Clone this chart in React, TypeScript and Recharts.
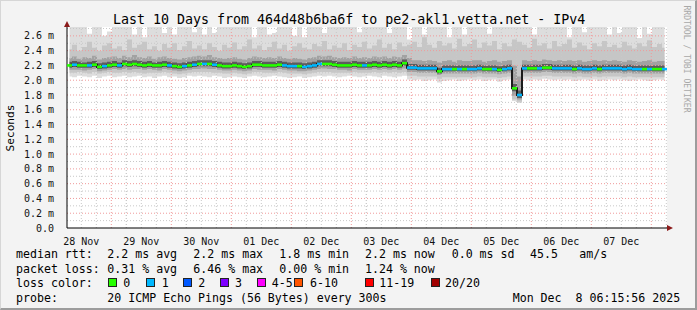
import React from 'react';
import { ComposedChart, Area, Line, XAxis, YAxis, CartesianGrid, ReferenceLine } from 'recharts';

// ---- data (2-hour bins, hours from start of window) ----
const binHours = 2;
const medianMs = [
  2.20, 2.21, 2.20, 2.20, 2.20, 2.21, 2.18, 2.19, 2.20, 2.21,
  2.20, 2.22, 2.21, 2.22, 2.21, 2.20, 2.21, 2.20, 2.20, 2.21,
  2.20, 2.19, 2.18, 2.19, 2.20, 2.21, 2.22, 2.22, 2.22, 2.21,
  2.20, 2.19, 2.19, 2.20, 2.19, 2.18, 2.19, 2.21, 2.21, 2.20,
  2.20, 2.20, 2.21, 2.20, 2.19, 2.19, 2.19, 2.18, 2.19, 2.20,
  2.22, 2.22, 2.22, 2.21, 2.20, 2.20, 2.20, 2.21, 2.20, 2.20,
  2.20, 2.21, 2.20, 2.21, 2.20, 2.21, 2.20, 2.23, 2.17, 2.17,
  2.16, 2.16, 2.16, 2.16, 2.12, 2.15, 2.15, 2.15, 2.15, 2.15,
  2.15, 2.15, 2.16, 2.15, 2.15, 2.15, 2.14, 2.15, 2.16, 1.89,
  1.80, 2.16, 2.16, 2.16, 2.16, 2.17, 2.17, 2.16, 2.16, 2.16,
  2.16, 2.15, 2.16, 2.15, 2.15, 2.16, 2.15, 2.16, 2.16, 2.16,
  2.16, 2.15, 2.16, 2.15, 2.15, 2.15, 2.15, 2.15, 2.15, 2.15,
];
const lossCount = [
  0, 1, 0, 0, 1, 0, 0, 1, 0, 0,
  1, 0, 0, 0, 0, 0, 0, 0, 0, 0,
  1, 0, 0, 1, 0, 1, 0, 1, 0, 1,
  0, 0, 0, 0, 0, 0, 0, 0, 0, 0,
  0, 0, 0, 1, 1, 1, 0, 1, 1, 1,
  1, 0, 0, 0, 0, 0, 0, 0, 0, 1,
  0, 0, 0, 0, 0, 0, 0, 0, 1, 1,
  1, 1, 1, 1, 0, 1, 1, 0, 1, 0,
  1, 1, 1, 0, 0, 1, 0, 1, 1, 0,
  1, 1, 0, 0, 1, 0, 0, 1, 1, 1,
  1, 0, 1, 1, 1, 1, 0, 1, 1, 1,
  1, 1, 1, 1, 1, 0, 1, 0, 0, 1,
];
const smokeMax = [
  2.72, 2.72, 2.72, 2.72, 2.63, 2.72, 2.72, 2.60, 2.66, 2.72,
  2.72, 2.72, 2.72, 2.62, 2.72, 2.58, 2.72, 2.72, 2.72, 2.64,
  2.72, 2.62, 2.72, 2.72, 2.72, 2.65, 2.72, 2.62, 2.72, 2.64,
  2.72, 2.72, 2.72, 2.72, 2.72, 2.72, 2.72, 2.58, 2.72, 2.72,
  2.62, 2.64, 2.72, 2.72, 2.72, 2.60, 2.72, 2.58, 2.72, 2.72,
  2.72, 2.64, 2.72, 2.72, 2.72, 2.72, 2.72, 2.72, 2.65, 2.72,
  2.72, 2.72, 2.72, 2.72, 2.64, 2.72, 2.72, 2.72, 2.55, 2.72,
  2.72, 2.62, 2.72, 2.72, 2.72, 2.72, 2.58, 2.72, 2.72, 2.62,
  2.72, 2.72, 2.72, 2.72, 2.63, 2.72, 2.72, 2.72, 2.72, 2.72,
  2.72, 2.72, 2.72, 2.62, 2.72, 2.72, 2.72, 2.72, 2.72, 2.72,
  2.58, 2.72, 2.72, 2.65, 2.72, 2.72, 2.72, 2.72, 2.62, 2.72,
  2.64, 2.72, 2.72, 2.72, 2.57, 2.72, 2.63, 2.72, 2.72, 2.72,
];
const smokeMin = [
  2.05, 2.04, 2.06, 2.05, 2.04, 2.06, 2.03, 2.05, 2.06, 2.04,
  2.05, 2.06, 2.04, 2.05, 2.06, 2.04, 2.05, 2.03, 2.05, 2.06,
  2.04, 2.05, 2.03, 2.04, 2.06, 2.05, 2.06, 2.05, 2.04, 2.06,
  2.05, 2.03, 2.04, 2.05, 2.04, 2.03, 2.05, 2.06, 2.05, 2.04,
  2.05, 2.06, 2.05, 2.04, 2.03, 2.04, 2.05, 2.03, 2.04, 2.05,
  2.06, 2.05, 2.06, 2.05, 2.04, 2.05, 2.06, 2.05, 2.04, 2.05,
  2.06, 2.05, 2.04, 2.06, 2.05, 2.04, 2.05, 2.06, 2.01, 2.00,
  2.01, 1.99, 2.00, 2.01, 1.97, 1.99, 2.00, 2.01, 1.99, 2.00,
  2.01, 2.00, 2.01, 1.99, 2.00, 2.01, 1.98, 2.00, 2.01, 1.72,
  1.69, 2.01, 2.00, 2.01, 2.00, 2.02, 2.01, 2.00, 2.01, 2.00,
  2.01, 1.99, 2.00, 2.01, 2.00, 2.01, 1.99, 2.00, 2.01, 2.00,
  2.01, 2.00, 1.99, 2.00, 2.01, 2.00, 1.99, 2.00, 2.01, 2.00,
];
const midTop = [
  2.42, 2.48, 2.40, 2.45, 2.52, 2.44, 2.40, 2.47, 2.50, 2.43,
  2.46, 2.41, 2.55, 2.44, 2.48, 2.52, 2.42, 2.46, 2.40, 2.49,
  2.44, 2.50, 2.41, 2.46, 2.53, 2.43, 2.47, 2.42, 2.50, 2.45,
  2.40, 2.48, 2.44, 2.51, 2.42, 2.46, 2.55, 2.43, 2.47, 2.41,
  2.45, 2.52, 2.43, 2.48, 2.40, 2.46, 2.50, 2.44, 2.42, 2.49,
  2.46, 2.53, 2.42, 2.47, 2.44, 2.50, 2.41, 2.48, 2.45, 2.52,
  2.43, 2.47, 2.55, 2.44, 2.49, 2.42, 2.51, 2.46, 2.48, 2.52,
  2.45, 2.58, 2.48, 2.44, 2.53, 2.47, 2.50, 2.43, 2.56, 2.46,
  2.49, 2.55, 2.44, 2.51, 2.47, 2.53, 2.42, 2.50, 2.46, 2.55,
  2.52, 2.48, 2.44, 2.56, 2.47, 2.50, 2.43, 2.53, 2.46, 2.49,
  2.55, 2.44, 2.51, 2.47, 2.42, 2.50, 2.46, 2.53, 2.45, 2.48,
  2.44, 2.52, 2.47, 2.43, 2.50, 2.46, 2.54, 2.45, 2.49, 2.44,
];
const midBottom = [
  2.10, 2.10, 2.11, 2.10, 2.09, 2.11, 2.09, 2.10, 2.11, 2.10,
  2.10, 2.11, 2.10, 2.11, 2.10, 2.09, 2.10, 2.10, 2.10, 2.11,
  2.10, 2.09, 2.08, 2.09, 2.10, 2.11, 2.11, 2.11, 2.11, 2.10,
  2.10, 2.09, 2.09, 2.10, 2.09, 2.08, 2.09, 2.11, 2.11, 2.10,
  2.10, 2.10, 2.11, 2.10, 2.09, 2.09, 2.09, 2.08, 2.09, 2.10,
  2.11, 2.11, 2.11, 2.10, 2.10, 2.10, 2.10, 2.11, 2.10, 2.10,
  2.10, 2.11, 2.10, 2.11, 2.10, 2.11, 2.10, 2.11, 2.06, 2.06,
  2.05, 2.05, 2.05, 2.05, 2.02, 2.04, 2.04, 2.04, 2.04, 2.04,
  2.04, 2.04, 2.05, 2.04, 2.04, 2.04, 2.03, 2.04, 2.05, 1.74,
  1.71, 2.05, 2.05, 2.05, 2.05, 2.06, 2.06, 2.05, 2.05, 2.05,
  2.05, 2.04, 2.05, 2.04, 2.04, 2.05, 2.04, 2.05, 2.05, 2.05,
  2.05, 2.04, 2.05, 2.04, 2.04, 2.04, 2.04, 2.04, 2.04, 2.04,
];
const innerTop = [
  2.30, 2.32, 2.29, 2.31, 2.30, 2.33, 2.28, 2.30, 2.31, 2.32,
  2.30, 2.33, 2.31, 2.34, 2.31, 2.30, 2.32, 2.29, 2.31, 2.32,
  2.30, 2.29, 2.28, 2.30, 2.31, 2.32, 2.33, 2.32, 2.34, 2.31,
  2.30, 2.29, 2.30, 2.31, 2.29, 2.28, 2.30, 2.32, 2.31, 2.30,
  2.31, 2.30, 2.32, 2.30, 2.29, 2.30, 2.29, 2.28, 2.30, 2.31,
  2.33, 2.32, 2.33, 2.31, 2.30, 2.31, 2.30, 2.32, 2.30, 2.31,
  2.30, 2.32, 2.31, 2.32, 2.30, 2.32, 2.31, 2.34, 2.30, 2.27,
  2.27, 2.26, 2.27, 2.26, 2.24, 2.26, 2.27, 2.25, 2.27, 2.26,
  2.26, 2.27, 2.27, 2.25, 2.26, 2.27, 2.25, 2.26, 2.27, 2.20,
  2.05, 2.27, 2.26, 2.27, 2.26, 2.28, 2.27, 2.26, 2.27, 2.26,
  2.27, 2.26, 2.27, 2.25, 2.26, 2.27, 2.26, 2.27, 2.26, 2.27,
  2.26, 2.25, 2.27, 2.26, 2.25, 2.26, 2.27, 2.25, 2.26, 2.26,
];
const innerBottom = [
  2.14, 2.14, 2.14, 2.13, 2.14, 2.15, 2.12, 2.13, 2.14, 2.15,
  2.14, 2.15, 2.14, 2.15, 2.15, 2.14, 2.15, 2.14, 2.13, 2.15,
  2.14, 2.13, 2.12, 2.13, 2.14, 2.15, 2.15, 2.16, 2.15, 2.15,
  2.14, 2.13, 2.13, 2.14, 2.13, 2.12, 2.13, 2.15, 2.14, 2.14,
  2.14, 2.13, 2.15, 2.14, 2.13, 2.13, 2.12, 2.12, 2.13, 2.14,
  2.15, 2.16, 2.15, 2.15, 2.14, 2.14, 2.13, 2.15, 2.14, 2.14,
  2.14, 2.15, 2.14, 2.15, 2.14, 2.15, 2.14, 2.16, 2.11, 2.11,
  2.10, 2.10, 2.10, 2.10, 2.07, 2.09, 2.09, 2.09, 2.09, 2.09,
  2.09, 2.09, 2.10, 2.09, 2.09, 2.09, 2.08, 2.09, 2.10, 1.79,
  1.74, 2.10, 2.10, 2.10, 2.10, 2.11, 2.11, 2.10, 2.10, 2.10,
  2.10, 2.09, 2.10, 2.09, 2.09, 2.10, 2.09, 2.10, 2.10, 2.10,
  2.10, 2.09, 2.10, 2.09, 2.09, 2.09, 2.09, 2.09, 2.09, 2.09,
];
const coreTop = [
  2.25, 2.26, 2.25, 2.24, 2.25, 2.26, 2.23, 2.24, 2.25, 2.26,
  2.24, 2.27, 2.26, 2.27, 2.26, 2.25, 2.26, 2.24, 2.25, 2.26,
  2.25, 2.24, 2.23, 2.24, 2.25, 2.26, 2.27, 2.27, 2.27, 2.26,
  2.25, 2.24, 2.24, 2.25, 2.24, 2.23, 2.24, 2.26, 2.26, 2.25,
  2.25, 2.25, 2.26, 2.25, 2.24, 2.24, 2.24, 2.23, 2.24, 2.25,
  2.27, 2.27, 2.27, 2.26, 2.25, 2.25, 2.25, 2.26, 2.25, 2.25,
  2.25, 2.26, 2.25, 2.26, 2.25, 2.26, 2.25, 2.28, 2.22, 2.22,
  2.21, 2.21, 2.21, 2.21, 2.17, 2.20, 2.20, 2.20, 2.20, 2.20,
  2.20, 2.20, 2.21, 2.20, 2.20, 2.20, 2.19, 2.20, 2.21, 1.95,
  1.86, 2.21, 2.21, 2.21, 2.21, 2.22, 2.22, 2.21, 2.21, 2.21,
  2.21, 2.20, 2.21, 2.20, 2.20, 2.21, 2.20, 2.21, 2.21, 2.21,
  2.21, 2.20, 2.21, 2.20, 2.20, 2.20, 2.20, 2.20, 2.20, 2.20,
];
const coreBottom = [
  2.17, 2.18, 2.17, 2.17, 2.17, 2.18, 2.15, 2.16, 2.17, 2.18,
  2.17, 2.19, 2.18, 2.19, 2.18, 2.17, 2.18, 2.17, 2.17, 2.18,
  2.17, 2.16, 2.15, 2.16, 2.17, 2.18, 2.19, 2.19, 2.19, 2.18,
  2.17, 2.16, 2.16, 2.17, 2.16, 2.15, 2.16, 2.18, 2.18, 2.17,
  2.17, 2.17, 2.18, 2.17, 2.16, 2.16, 2.16, 2.15, 2.16, 2.17,
  2.19, 2.19, 2.19, 2.18, 2.17, 2.17, 2.17, 2.18, 2.17, 2.17,
  2.17, 2.18, 2.17, 2.18, 2.17, 2.18, 2.17, 2.20, 2.14, 2.14,
  2.13, 2.13, 2.13, 2.13, 2.09, 2.12, 2.12, 2.12, 2.12, 2.12,
  2.12, 2.12, 2.13, 2.12, 2.12, 2.12, 2.11, 2.12, 2.13, 1.85,
  1.76, 2.13, 2.13, 2.13, 2.13, 2.14, 2.14, 2.13, 2.13, 2.13,
  2.13, 2.12, 2.13, 2.12, 2.12, 2.13, 2.12, 2.13, 2.13, 2.13,
  2.13, 2.12, 2.13, 2.12, 2.12, 2.12, 2.12, 2.12, 2.12, 2.12,
];

const dayLabels = ['28 Nov', '29 Nov', '30 Nov', '01 Dec', '02 Dec', '03 Dec', '04 Dec', '05 Dec', '06 Dec', '07 Dec'];
const dayNoonHours = [5.73, 29.73, 53.73, 77.73, 101.73, 125.73, 149.73, 173.73, 197.73, 221.73];
const midnightHours = [17.73, 41.73, 65.73, 89.73, 113.73, 137.73, 161.73, 185.73, 209.73, 233.73];
const yTicks = [0, 0.2, 0.4, 0.6, 0.8, 1.0, 1.2, 1.4, 1.6, 1.8, 2.0, 2.2, 2.4, 2.6];
const yMinorTicks = [0.1, 0.3, 0.5, 0.7, 0.9, 1.1, 1.3, 1.5, 1.7, 1.9, 2.1, 2.3, 2.5, 2.7];

const lossColors = ['#26ff00', '#00b8ff', '#0059ff', '#7e00ff', '#ff00ff', '#ff5500', '#ff0000', '#a10000'];
const lossLabels = ['0', '1', '2', '3', '4-5', '6-10', '11-19', '20/20'];

const titleText = 'Last 10 Days from 464d48b6ba6f to pe2-akl1.vetta.net - IPv4';
const medianRow = ['median rtt:', '2.2 ms avg', '2.2 ms max', '1.8 ms min', '2.2 ms now', '0.0 ms sd', '45.5', 'am/s'];
const lossRow = ['packet loss:', '0.31 % avg', '6.46 % max', '0.00 % min', '1.24 % now'];
const probeRow = ['probe:', '20 ICMP Echo Pings (56 Bytes) every 300s', 'Mon Dec  8 06:15:56 2025'];

const rows = medianMs.map((m, j) => ({
  h: j * binHours + binHours / 2,
  med: m,
  loss: lossCount[j],
  outer: [smokeMin[j], smokeMax[j]],
  mid: [midBottom[j], midTop[j]],
  inner: [innerBottom[j], innerTop[j]],
  core: [coreBottom[j], coreTop[j]],
}));

const sixHourLines: number[] = [];
midnightHours.forEach((m) => {
  [-18, -12, -6, 6].forEach((d) => {
    const v = m + d;
    if (v > 0 && v < 240 && !sixHourLines.includes(v)) sixHourLines.push(v);
  });
});

const MONO = "'DejaVu Sans Mono', monospace";
const RED_GRID = '#f09a9a';
const GRAY_GRID = '#c8c8c8';

const medianDot = (p: any) => {
  const { cx, cy, payload, index } = p;
  if (cx == null || cy == null) return <g key={`d${index}`} />;
  return (
    <rect key={`d${index}`} x={cx - 2.5} y={cy - 1.3} width={5} height={2.6} fill={lossColors[payload.loss]} />
  );
};

const txt = (left: number, top: number, s: string, extra: React.CSSProperties = {}) => (
  <div
    key={`${left}-${top}-${s}`}
    style={{
      position: 'absolute', left, top, fontFamily: MONO, fontSize: 11.6, lineHeight: '14px',
      whiteSpace: 'pre', color: '#000', ...extra,
    }}
  >
    {s}
  </div>
);

const band = (key: string, fill: string) => (
  <Area
    key={key} type="step" dataKey={key} fill={fill} fillOpacity={1} stroke="none"
    isAnimationActive={false} dot={false} activeDot={false}
  />
);

export default function App() {
  const medCols = [16, 107.3, 193.3, 279.3, 365, 451.7, 530, 579.3];
  const lossCols = [16, 107.3, 193.3, 279.3, 365];
  const boxX = [108.3, 145.7, 182.7, 220, 257.3, 294, 365, 431];
  const lblX = [123.3, 161.7, 198.3, 235, 271.7, 310, 379.3, 445];
  return (
    <div
      style={{
        position: 'absolute', left: 0, top: 0, width: 697, height: 310, background: '#f3f3f3',
        boxSizing: 'border-box', borderStyle: 'solid', borderWidth: '1px 2px 2px 1px',
        borderColor: '#d6d6d6 #9c9c9c #9c9c9c #d6d6d6', overflow: 'hidden',
      }}
    >
      <div style={{ position: 'absolute', left: -1, top: -1 }}>
        <ComposedChart width={697} height={310} data={rows} margin={{ top: 27, right: 30, bottom: 62, left: 7 }}>
          <CartesianGrid horizontal={false} vertical={false} fill="#ffffff" stroke="none" />
          <XAxis
            dataKey="h" type="number" domain={[0, 240]} ticks={dayNoonHours} interval={0}
            tickFormatter={(v: number) => dayLabels[dayNoonHours.indexOf(v)] ?? ''}
            axisLine={{ stroke: '#000' }} tickLine={false} tickMargin={4} height={20}
            tick={{ fontSize: 10, fontFamily: MONO, fill: '#111' }}
          />
          <YAxis
            type="number" domain={[0, 2.72]} ticks={yTicks} interval={0} allowDataOverflow
            tickFormatter={(v: number) => (v === 0 ? '0.0' : `${v.toFixed(1)} m`)}
            axisLine={{ stroke: '#000' }} tickLine={false} tickMargin={7} width={60}
            tick={{ fontSize: 10, fontFamily: MONO, fill: '#111' }}
          />
          {band('outer', '#dddddd')}
          {band('mid', '#c6c6c6')}
          {band('inner', '#a2a2a2')}
          {band('core', '#5c5c5c')}
          {yMinorTicks.map((v) => (
            <ReferenceLine key={`ym${v}`} y={v} stroke={GRAY_GRID} strokeDasharray="1 2" ifOverflow="hidden" />
          ))}
          {sixHourLines.map((v) => (
            <ReferenceLine key={`xm${v}`} x={v} stroke={GRAY_GRID} strokeDasharray="1 2" />
          ))}
          {yTicks.filter((v) => v > 0).map((v) => (
            <ReferenceLine key={`yM${v}`} y={v} stroke={RED_GRID} strokeDasharray="1 2" />
          ))}
          {midnightHours.map((v) => (
            <ReferenceLine key={`xM${v}`} x={v} stroke={RED_GRID} strokeDasharray="1 2" />
          ))}
          <Line type="step" dataKey="med" stroke="#1c1c1c" strokeWidth={2} dot={medianDot} activeDot={false} isAnimationActive={false} />
        </ComposedChart>
      </div>

      <svg width={697} height={310} style={{ position: 'absolute', left: -1, top: -1, pointerEvents: 'none' }}>
        <polygon points="64,27 70,27 67,21" fill="#8b1a1a" />
        <polygon points="667,225 667,231 673,228" fill="#8b1a1a" />
      </svg>

      {txt(112, 11, titleText, { fontSize: 13.3, lineHeight: '16px' })}
      <div
        style={{
          position: 'absolute', left: 9, top: 127, fontFamily: MONO, fontSize: 11.2, whiteSpace: 'pre',
          transform: 'translate(-50%, -50%) rotate(-90deg)', lineHeight: '13px',
        }}
      >
        Seconds
      </div>
      <div
        style={{
          position: 'absolute', left: 686, top: 58, fontFamily: MONO, fontSize: 8.1, whiteSpace: 'pre', color: '#a8a8a8',
          transform: 'translate(-50%, -50%) rotate(90deg)', lineHeight: '10px',
        }}
      >
        RRDTOOL / TOBI OETIKER
      </div>

      {medianRow.map((s, i) => txt(medCols[i] - 1, 246, s))}
      {lossRow.map((s, i) => txt(lossCols[i] - 1, 260.5, s))}
      {txt(15, 274.5, 'loss color:')}
      {lossColors.map((c, i) => (
        <div
          key={`b${i}`}
          style={{
            position: 'absolute', left: boxX[i] - 1, top: 277, width: 7, height: 7,
            background: c, border: '1px solid #222',
          }}
        />
      ))}
      {lossLabels.map((s, i) => txt(lblX[i] - 1, 274.5, s))}
      {txt(15, 289.5, probeRow[0])}
      {txt(106.3, 289.5, probeRow[1])}
      {txt(511.7, 289.5, probeRow[2])}
    </div>
  );
}
